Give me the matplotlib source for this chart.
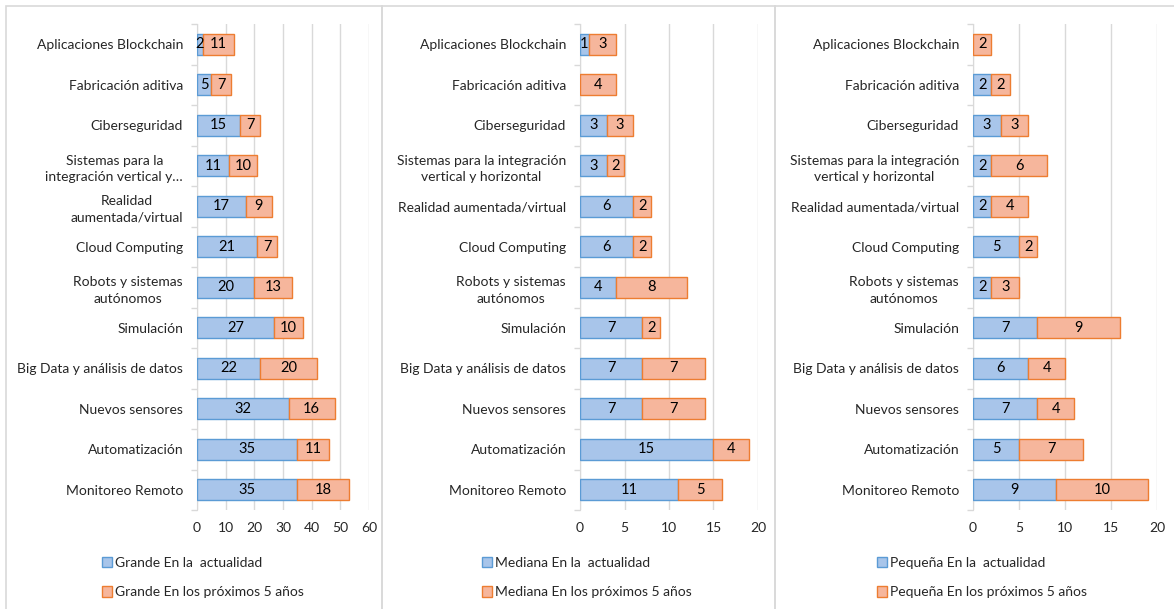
import matplotlib.pyplot as plt
import numpy as np
from matplotlib.patches import Rectangle

plt.rcParams['font.family'] = ['Lato', 'DejaVu Sans']
plt.rcParams['font.size'] = 10

# categories, top to bottom
labels_grande = [
    'Aplicaciones Blockchain', 'Fabricación aditiva', 'Ciberseguridad',
    'Sistemas para la\nintegración vertical y…', 'Realidad\naumentada/virtual',
    'Cloud Computing', 'Robots y sistemas\nautónomos', 'Simulación',
    'Big Data y análisis de datos', 'Nuevos sensores', 'Automatización',
    'Monitoreo Remoto',
]
labels_other = [
    'Aplicaciones Blockchain', 'Fabricación aditiva', 'Ciberseguridad',
    'Sistemas para la integración\nvertical y horizontal', 'Realidad aumentada/virtual',
    'Cloud Computing', 'Robots y sistemas\nautónomos', 'Simulación',
    'Big Data y análisis de datos', 'Nuevos sensores', 'Automatización',
    'Monitoreo Remoto',
]

grande_actual = [2, 5, 15, 11, 17, 21, 20, 27, 22, 32, 35, 35]
grande_futuro = [11, 7, 7, 10, 9, 7, 13, 10, 20, 16, 11, 18]
mediana_actual = [1, 0, 3, 3, 6, 6, 4, 7, 7, 7, 15, 11]
mediana_futuro = [3, 4, 3, 2, 2, 2, 8, 2, 7, 7, 4, 5]
pequena_actual = [0, 2, 3, 2, 2, 5, 2, 7, 6, 7, 5, 9]
pequena_futuro = [2, 2, 3, 6, 4, 2, 3, 9, 4, 4, 7, 10]

panels = [
    ('Grande', labels_grande, grande_actual, grande_futuro, np.arange(0, 61, 10)),
    ('Mediana', labels_other, mediana_actual, mediana_futuro, np.arange(0, 21, 5)),
    ('Pequeña', labels_other, pequena_actual, pequena_futuro, np.arange(0, 21, 5)),
]

BLUE, BLUE_EDGE = '#A8C5EA', '#5B9BD5'
ORANGE, ORANGE_EDGE = '#F6B69C', '#ED7D31'
GRID = '#D9D9D9'
TEXT = '#262626'

W, H = 1174, 609
fig = plt.figure(figsize=(W / 100, H / 100), dpi=100)

axes_px = [(197, 369), (580, 758), (973, 1157)]
legend_px = [102, 482, 877]
frames_px = [(6, 382), (382, 775), (775, 1180)]
top_px, bottom_px = 24, 510

for (x0, x1) in frames_px:
    fig.add_artist(Rectangle((x0 / W, -0.05), (x1 - x0) / W, 1.05 - 6 / H,
                             transform=fig.transFigure, fill=False,
                             edgecolor=GRID, lw=1.2))

for (name, labels, actual, futuro, ticks), (l, r), lx in zip(panels, axes_px, legend_px):
    ax = fig.add_axes([l / W, 1 - bottom_px / H, (r - l) / W, (bottom_px - top_px) / H])
    y = np.arange(len(labels))
    b1 = ax.barh(y, actual, height=0.52, color=BLUE, edgecolor=BLUE_EDGE, lw=1,
                 label=f'{name} En la  actualidad', zorder=3)
    b2 = ax.barh(y, futuro, left=actual, height=0.52, color=ORANGE, edgecolor=ORANGE_EDGE,
                 lw=1, label=f'{name} En los próximos 5 años', zorder=3)
    ax.bar_label(b1, labels=[str(v) if v else '' for v in actual], label_type='center',
                 color='black', fontsize=10.5)
    ax.bar_label(b2, labels=[str(v) if v else '' for v in futuro], label_type='center',
                 color='black', fontsize=10.5)

    ax.set_xlim(ticks[0], ticks[-1])
    ax.set_ylim(len(labels) - 0.5, -0.5)
    ax.set_xticks(ticks)
    ax.set_yticks(y)
    ax.set_yticklabels(labels)
    for t in ax.get_yticklabels():
        t.set_multialignment('center')
        t.set_linespacing(1.45)
    ax.set_yticks(np.arange(len(labels) + 1) - 0.5, minor=True)
    ax.tick_params(axis='y', which='major', length=0, pad=10, labelcolor=TEXT)
    ax.tick_params(axis='y', which='minor', length=4, color=GRID, width=1)
    ax.tick_params(axis='x', length=0, pad=9, labelcolor=TEXT)
    ax.grid(axis='x', color=GRID, lw=1, zorder=0)
    ax.set_axisbelow(True)
    for s in ['top', 'right', 'bottom']:
        ax.spines[s].set_visible(False)
    ax.spines['left'].set_color(GRID)

    fig.legend(handles=[b1, b2], loc='upper left',
               bbox_to_anchor=(lx / W, 1 - 557 / H), frameon=False,
               handlelength=0.75, handleheight=0.75, handletextpad=0.2,
               labelspacing=1.25, borderpad=0, borderaxespad=0,
               labelcolor=TEXT, fontsize=10)

fig.savefig('out.png', dpi=100)
